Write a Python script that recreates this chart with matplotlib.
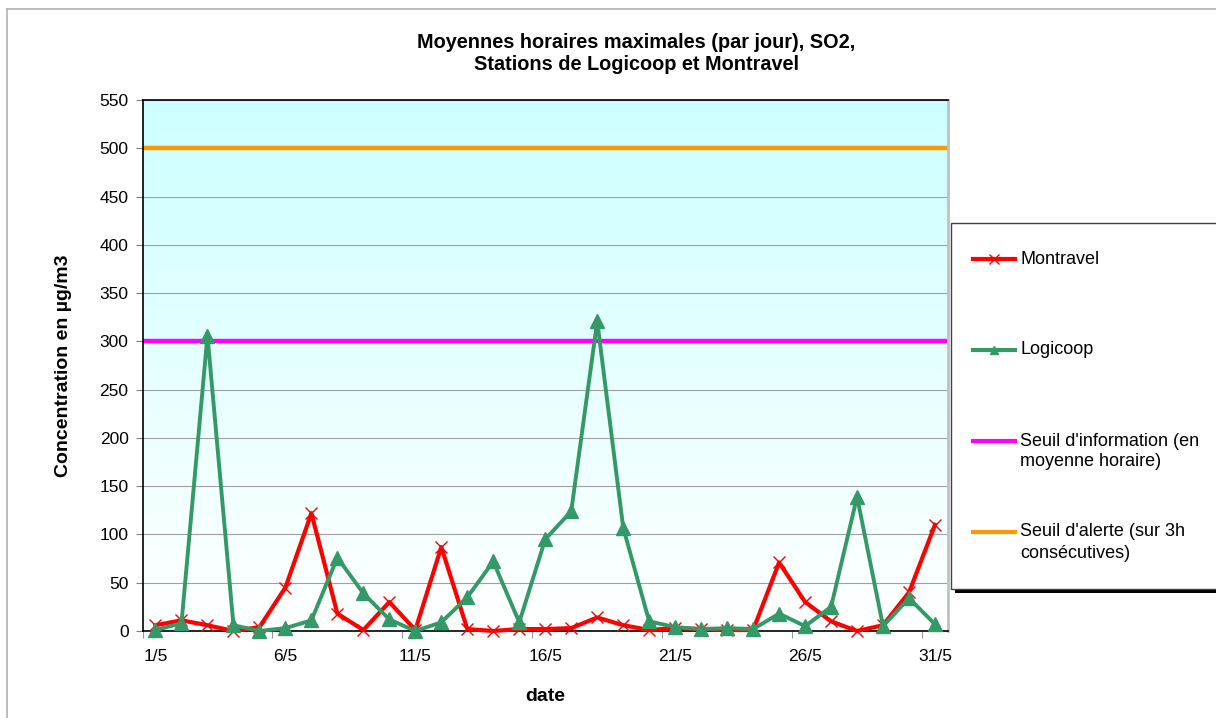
import matplotlib
matplotlib.use("Agg")
import matplotlib.pyplot as plt
import numpy as np
from matplotlib.lines import Line2D
from matplotlib.patches import Rectangle

# --- DONNÉES ---
jours = list(range(1, 32))
etiquettes = [f"{j}/5" for j in jours]

montravel = [6, 11, 6, 0, 4, 45, 122, 18, 1, 30, 1, 87, 2, 0, 2, 2, 3, 14, 6, 1,
             3, 2, 1, 1, 71, 30, 10, 0, 6, 40, 110]
logicoop = [1, 8, 306, 6, 0, 3, 11, 76, 39, 12, 0, 9, 35, 72, 9, 95, 124, 321, 107, 10,
            4, 2, 3, 2, 18, 5, 25, 139, 5, 34, 7]

seuil_info = 300
seuil_alerte = 500

titre = ["Moyennes horaires maximales (par jour), SO2,", "Stations de Logicoop et Montravel"]
legende = [["Montravel"], ["Logicoop"], ["Seuil d'information (en", "moyenne horaire)"],
           ["Seuil d'alerte (sur 3h", "consécutives)"]]

plt.rcParams['font.family'] = ['Liberation Sans', 'DejaVu Sans']

W, H = 1216, 718
fig = plt.figure(figsize=(W / 100, H / 100), dpi=100)
ax = fig.add_axes([142.5 / W, 1 - 631 / H, (948 - 142.5) / W, (631 - 100) / H])

# fond dégradé cyan -> blanc
grad = np.linspace(1, 0, 256).reshape(-1, 1)
top = np.array([0.80, 1.0, 1.0])
img = (1 - grad[..., None]) * np.ones(3) + grad[..., None] * top
ax.imshow(img, extent=[0, 1, 0, 1], transform=ax.transAxes, aspect='auto', zorder=0)

x = np.array(jours)
ax.axhline(seuil_info, color='#ff00ff', lw=3.2, zorder=2)
ax.axhline(seuil_alerte, color='#ff9900', lw=3.2, zorder=2)
ax.plot(x, montravel, color='#ff0000', lw=3, marker='x', markersize=9,
        markeredgewidth=1.0, zorder=3, clip_on=False)
ax.plot(x, logicoop, color='#339966', lw=2.8, marker='^', markersize=9.5,
        zorder=4, clip_on=False)

ax.set_xlim(0.5, 31.5)
ax.set_ylim(0, 550)
ax.set_yticks(np.arange(0, 551, 50))
ax.yaxis.grid(True, color='#a0a0a0', lw=0.8, zorder=1)
ax.set_axisbelow(True)

ax.set_xticks(x[::5])
ax.set_xticklabels(etiquettes[::5])
ax.set_xticks(np.arange(0.5, 31, 5), minor=True)
ax.tick_params(axis='x', which='major', length=0, pad=13, labelsize=12.5)
ax.tick_params(axis='x', which='minor', length=5, color='#808080', direction='out')
ax.tick_params(axis='y', length=5, color='#808080', pad=5, labelsize=12.5)

for s in ['left', 'bottom', 'top']:
    ax.spines[s].set_color('black')
    ax.spines[s].set_linewidth(1.2)
ax.spines['right'].set_color('#c0c0c0')
ax.spines['right'].set_linewidth(2)

ax.set_xlabel('date', fontsize=14, fontweight='bold', labelpad=17)
ax.set_ylabel('Concentration en µg/m3', fontsize=14, fontweight='bold', labelpad=20)

fig.text(636 / W, 1 - 43 / H, titre[0], ha='center', va='center', fontsize=14.3, fontweight='bold')
fig.text(636 / W, 1 - 64 / H, titre[1], ha='center', va='center', fontsize=14.3, fontweight='bold')

# cadre du graphique
fig.add_artist(Line2D([7 / W, 7 / W], [0, 1 - 9 / H], transform=fig.transFigure, color='#b0b0b0', lw=1.2))
fig.add_artist(Line2D([7 / W, 1], [1 - 9 / H, 1 - 9 / H], transform=fig.transFigure, color='#b0b0b0', lw=1.2))

# légende
fig.add_artist(Rectangle((955 / W, 1 - 593 / H), (W - 955) / W, 5 / H, transform=fig.transFigure,
                         facecolor='black', edgecolor='none', zorder=5))
fig.add_artist(Rectangle((951 / W, 1 - 589 / H), (W - 951 + 5) / W, (589 - 223) / H, transform=fig.transFigure,
                         facecolor='white', edgecolor='#404040', lw=1, zorder=6))
styles = [dict(color='#ff0000', marker='x', markersize=7, markeredgewidth=1.0),
          dict(color='#339966', marker='^', markersize=6),
          dict(color='#ff00ff'), dict(color='#ff9900')]
ys = [259, 350, 441, 532]
for lignes, st, yy in zip(legende, styles, ys):
    yf = 1 - yy / H
    fig.add_artist(Line2D([973 / W, 994 / W, 1015 / W], [yf, yf, yf], transform=fig.transFigure,
                          lw=3, markevery=[1], zorder=7, **st))
    for k, lab in enumerate(lignes):
        fig.text(1020 / W, 1 - (yy + 21 * k) / H, lab, ha='left', va='center', fontsize=13, zorder=7)

fig.savefig('out.png', dpi=100)
